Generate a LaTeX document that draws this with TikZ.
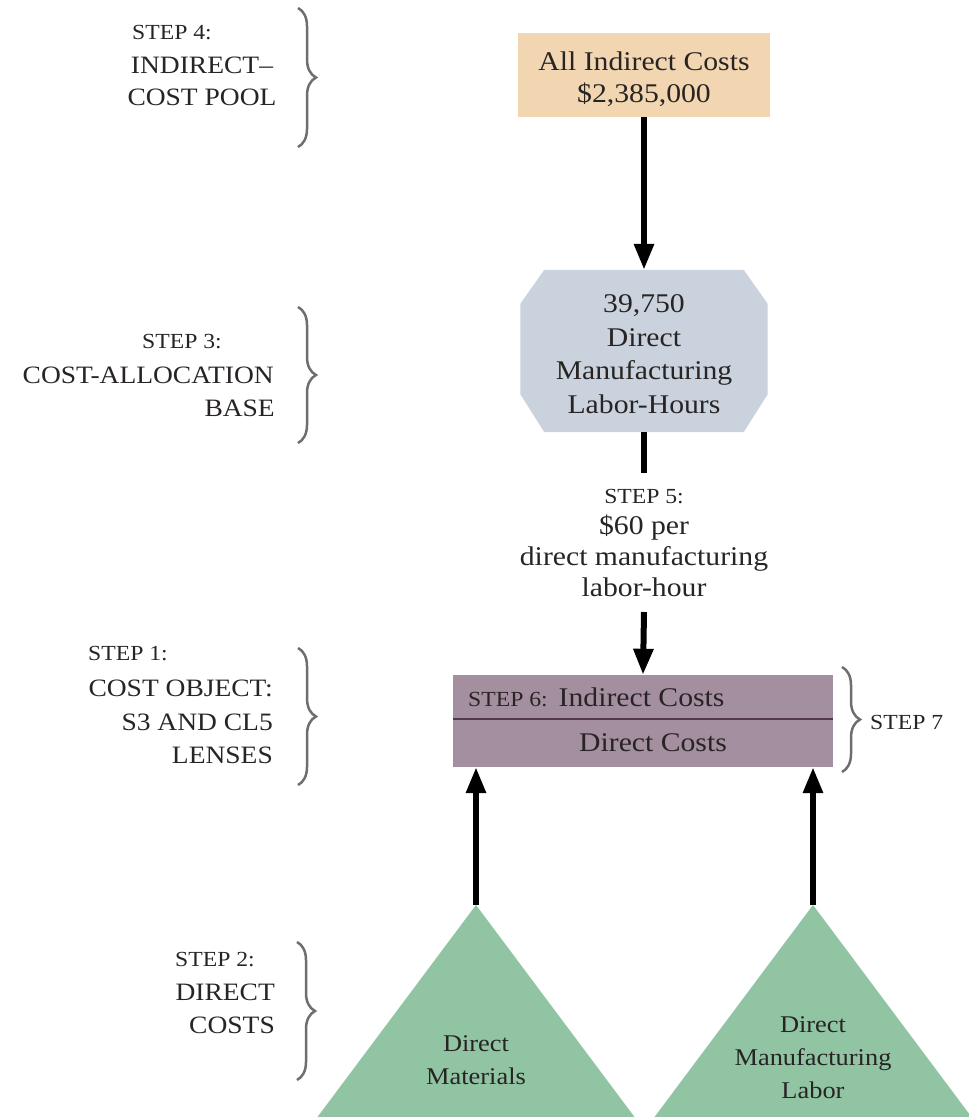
\documentclass[tikz,border=0pt]{standalone}
\usepackage{fontspec}
\setmainfont{Liberation Serif}[FakeStretch=1.1]
\usetikzlibrary{arrows.meta,decorations.pathreplacing,backgrounds}
\definecolor{peach}{RGB}{242,214,178}
\definecolor{octblue}{RGB}{202,211,221}
\definecolor{mauve}{RGB}{164,143,160}
\definecolor{mauvedark}{RGB}{85,55,75}
\definecolor{leaf}{RGB}{144,196,163}
\definecolor{txt}{RGB}{40,36,36}
\definecolor{bracegray}{RGB}{110,110,110}
\begin{document}
\begin{tikzpicture}[x=1pt,y=-1pt,
  body/.style={font=\fontsize{27}{32}\selectfont, text=txt, align=center, inner sep=0pt},
  tribody/.style={font=\fontsize{24}{33}\selectfont, text=txt, align=center, inner sep=0pt},
  steplbl/.style={font=\fontsize{25}{30}\selectfont, text=txt, inner sep=0pt},
  stepsm/.style={font=\fontsize{21.5}{26}\selectfont, text=txt, inner sep=0pt},
  flow/.style={line width=6pt, draw=black, -{Triangle[width=19pt,length=26pt]}},
  bar/.style={line width=6pt, draw=black},
  stepbrace/.style={decorate, decoration={brace, amplitude=18pt, aspect=0.5}, line width=2.5pt, draw=bracegray}]
\useasboundingbox (0,0) rectangle (969,1117);
\clip (0,0) rectangle (969,1117);

% top box
\node[fill=peach, minimum width=252pt, minimum height=84pt, inner sep=0pt] (pool) at (644,75) {};
\node[body] (pooltxt) at (644,79) {All Indirect Costs\\\$2,385,000};

% octagon
\node[minimum width=247pt, minimum height=162pt, inner sep=0pt] (hrs) at (644,351) {};
\begin{pgfonlayer}{background}
\fill[octblue] ([xshift=24pt]hrs.north west) -- ([xshift=-24pt]hrs.north east)
  -- ([yshift=-34pt]hrs.north east) -- ([yshift=38pt]hrs.south east)
  -- ([xshift=-24pt]hrs.south east) -- ([xshift=24pt]hrs.south west)
  -- ([yshift=38pt]hrs.south west) -- ([yshift=-34pt]hrs.north west) -- cycle;
\end{pgfonlayer}
\node[body, font=\fontsize{27}{33.5}\selectfont] (hrstxt) at (644,354) {39,750\\Direct\\Manufacturing\\Labor-Hours};

\draw[flow] (pool.south) -- (hrs.north);

% step 5
\coordinate (barend) at (644,473);
\draw[bar] (hrs.south) -- (barend);
\node[body, font=\fontsize{27}{31}\selectfont] (rate) at (644,543) {{\fontsize{21.5}{26}\selectfont STEP 5:}\\\$60 per\\direct manufacturing\\labor-hour};
\coordinate (ratearrow) at (644,612);

% cost object box
\node[fill=mauve, minimum width=380pt, minimum height=92pt, inner sep=0pt] (obj) at (643,721) {};
\draw[line width=2pt, draw=mauvedark] ([yshift=2pt]obj.west) -- ([yshift=2pt]obj.east);
\node[body, anchor=west] (ind) at (468,697) {{\fontsize{21.5}{26}\selectfont STEP 6:}\hspace{11pt}Indirect Costs};
\node[body] (dir) at (653,743) {Direct Costs};
\draw[flow] (ratearrow) -- (obj.north);

% triangles
\coordinate (dmapex) at (476,905);
\coordinate (dlapex) at (813,905);
\fill[leaf] (dmapex) -- ++(-166,222) -- ++(332,0) -- cycle;
\fill[leaf] (dlapex) -- ++(-166,222) -- ++(332,0) -- cycle;
\node[tribody] (dm) at (476,1060) {Direct\\Materials};
\node[tribody] (dl) at (813,1058) {Direct\\Manufacturing\\Labor};
\draw[flow] (dmapex) -- (dmapex |- obj.south);
\draw[flow] (dlapex) -- (dlapex |- obj.south);

% step labels
\node[stepsm, anchor=west] (s4a) at (132,33) {STEP 4:};
\node[steplbl] (s4b) at (202,65) {INDIRECT–};
\node[steplbl] (s4c) at (202,97) {COST POOL};
\draw[stepbrace] (298,8) -- (298,147);

\node[stepsm] (s3a) at (182,342) {STEP 3:};
\node[steplbl, anchor=east] (s3b) at (274,375) {COST-ALLOCATION};
\node[steplbl, anchor=east] (s3c) at (275,408) {BASE};
\draw[stepbrace] (298,307) -- (298,443);

\node[stepsm, anchor=west] (s1a) at (88,654) {STEP 1:};
\node[steplbl, anchor=east] (s1b) at (273,688) {COST OBJECT:};
\node[steplbl, anchor=east] (s1c) at (273,722) {S3 AND CL5};
\node[steplbl, anchor=east] (s1d) at (273,755) {LENSES};
\draw[stepbrace] (298,648) -- (298,785);

\node[stepsm, anchor=west] (s2a) at (175,960) {STEP 2:};
\node[steplbl, anchor=east] (s2b) at (275,992) {DIRECT};
\node[steplbl, anchor=east] (s2c) at (275,1025) {COSTS};
\draw[stepbrace] (297,942) -- (297,1080);

\draw[stepbrace] (842,667) -- (842,772);
\node[stepsm, anchor=west] (s7) at (870,722) {STEP 7};
\end{tikzpicture}
\end{document}
